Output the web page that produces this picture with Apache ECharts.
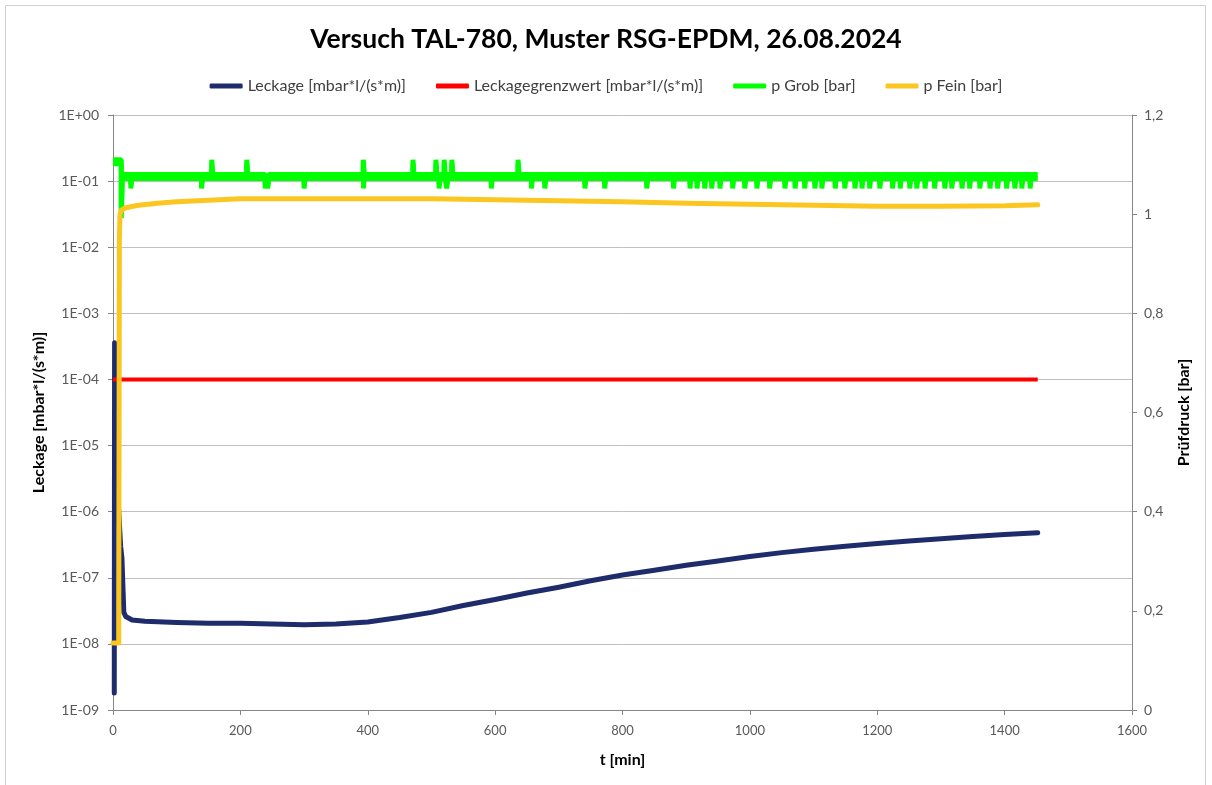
<!DOCTYPE html>
<html>
<head>
<meta charset="utf-8">
<title>Versuch TAL-780</title>
<script src="https://cdn.jsdelivr.net/npm/echarts@6/dist/echarts.min.js"></script>
<style>
  html, body { margin: 0; padding: 0; background: #fff; }
  #chart { width: 1212px; height: 785px; }
</style>
</head>
<body>
<div id="chart"></div>
<script>
// Leckage [mbar*l/(s*m)]  (log-Achse links)
var leckT = [2, 2.5, 4, 8, 12, 14, 17, 20, 30, 50, 100, 150, 200, 250, 300, 350, 400, 450, 500, 550,
             600, 650, 700, 750, 800, 850, 900, 950, 1000, 1050, 1100, 1150, 1200, 1250, 1300, 1350, 1400, 1452];
var leckV = [1.8e-9, 3.6e-4, 1.7e-5, 1.5e-6, 3e-7, 2e-7, 3e-8, 2.6e-8, 2.3e-8, 2.2e-8, 2.1e-8, 2.05e-8, 2.05e-8, 2.0e-8, 1.95e-8, 2.0e-8, 2.15e-8, 2.5e-8, 3.0e-8, 3.8e-8,
             4.7e-8, 5.9e-8, 7.2e-8, 9.0e-8, 1.1e-7, 1.3e-7, 1.55e-7, 1.8e-7, 2.1e-7, 2.4e-7, 2.7e-7, 3.0e-7, 3.3e-7, 3.6e-7, 3.9e-7, 4.2e-7, 4.5e-7, 4.8e-7];

// Leckagegrenzwert
var grenzT = [0, 1452];
var grenzV = [1e-4, 1e-4];

// p Fein [bar]
var feinT = [0, 9, 10, 11, 13, 20, 40, 70, 100, 150, 200, 300, 400, 500, 600, 700, 800, 900, 1000, 1100, 1200, 1300, 1400, 1452];
var feinV = [0.135, 0.135, 0.95, 1.0, 1.008, 1.013, 1.018, 1.022, 1.025, 1.028, 1.031, 1.031, 1.031, 1.031, 1.029, 1.027, 1.025, 1.022, 1.020, 1.018, 1.016, 1.016, 1.017, 1.019];

var grobBase = 1.08;
var grobStartT = [0, 13, 13, 14.5];
var grobStartV = [1.11, 1.11, 1.0, 1.0];
var grobSpikeT = [155, 210, 393, 471, 507, 520, 532, 636];
var grobDipT = [28, 139, 239, 243, 300, 393, 512, 524, 594, 657, 678, 741, 772, 838, 880,
                906, 917, 929, 940, 953, 973, 992, 1011, 1031, 1055, 1071, 1086, 1102, 1113, 1134,
                1149, 1165, 1176, 1188, 1204, 1224, 1236, 1251, 1262, 1275, 1290, 1306, 1317, 1333,
                1345, 1361, 1377, 1389, 1403, 1416, 1427, 1440];
var grobSpikeV = 1.11;
var grobDipV = 1.06;
var grobEndT = 1452;

var xTicks = [0, 1600, 200];
var yRight = [0, 1.2, 0.2];

function pairs(t, v) {
    var out = [];
    for (var i = 0; i < t.length; i++) out.push([t[i], v[i]]);
    return out;
}

function grobData() {
    var ev = [];
    grobSpikeT.forEach(function (t) { ev.push([t, grobSpikeV]); });
    grobDipT.forEach(function (t) { ev.push([t, grobDipV]); });
    ev.sort(function (a, b) { return a[0] - b[0]; });
    var d = pairs(grobStartT, grobStartV);
    d.push([grobStartT[grobStartT.length - 1], grobBase]);
    ev.forEach(function (e) {
        d.push([e[0], grobBase], [e[0], e[1]], [e[0] + 1.5, e[1]], [e[0] + 1.5, grobBase]);
    });
    d.push([grobEndT, grobBase]);
    return d;
}

function fmtExp(v) {
    var e = Math.round(Math.log(v) / Math.LN10);
    var a = Math.abs(e);
    return '1E' + (e < 0 ? '-' : '+') + (a < 10 ? '0' : '') + a;
}

var labelColor = '#595959';
var axisColor = '#868686';
var font = 'Lato';

var chart = echarts.init(document.getElementById('chart'));
var option = {
    animation: false,
    backgroundColor: '#fff',
    title: {
        text: 'Versuch TAL-780, Muster RSG-EPDM, 26.08.2024',
        left: 'center',
        top: 21,
        textStyle: { fontFamily: font, fontSize: 26.5, fontWeight: 'bold', color: '#000' }
    },
    legend: {
        top: 73,
        left: 'center',
        icon: 'roundRect',
        itemWidth: 33,
        itemHeight: 5,
        itemGap: 30,
        textStyle: { fontFamily: font, fontSize: 16, color: '#404040' },
        data: ['Leckage [mbar*l/(s*m)]', 'Leckagegrenzwert [mbar*l/(s*m)]', 'p Grob [bar]', 'p Fein [bar]']
    },
    graphic: [{
        type: 'rect',
        shape: { x: 5.5, y: 5.5, width: 1200, height: 800 },
        style: { fill: null, stroke: '#d0d0d0', lineWidth: 1 },
        silent: true
    }],
    grid: { left: 113, right: 80, top: 115, bottom: 75, containLabel: false },
    xAxis: {
        type: 'value',
        min: xTicks[0], max: xTicks[1], interval: xTicks[2],
        name: 't [min]',
        nameLocation: 'middle',
        nameGap: 42,
        nameTextStyle: { fontFamily: font, fontSize: 16, fontWeight: 'bold', color: '#000' },
        axisLine: { show: true, onZero: false, lineStyle: { color: axisColor } },
        axisTick: { show: true, length: 5, lineStyle: { color: axisColor } },
        axisLabel: { fontFamily: font, fontSize: 13, color: labelColor, margin: 14,
                     formatter: function (v) { return String(v); } },
        splitLine: { show: false }
    },
    yAxis: [{
        type: 'log',
        logBase: 10,
        min: 1e-9, max: 1,
        name: 'Leckage [mbar*l/(s*m)]',
        nameLocation: 'middle',
        nameRotate: 90,
        nameGap: 66,
        nameTextStyle: { fontFamily: font, fontSize: 16, fontWeight: 'bold', color: '#000' },
        axisLine: { show: true, lineStyle: { color: axisColor } },
        axisTick: { show: true, length: 5, lineStyle: { color: axisColor } },
        minorTick: { show: false },
        axisLabel: { fontFamily: font, fontSize: 14, color: labelColor, margin: 14, formatter: fmtExp },
        splitLine: { show: true, lineStyle: { color: '#bfbfbf', width: 1 } }
    }, {
        type: 'value',
        position: 'right',
        min: yRight[0], max: yRight[1], interval: yRight[2],
        name: 'Prüfdruck [bar]',
        nameLocation: 'middle',
        nameRotate: 90,
        nameGap: 44,
        nameTextStyle: { fontFamily: font, fontSize: 16, fontWeight: 'bold', color: '#000' },
        axisLine: { show: true, lineStyle: { color: axisColor } },
        axisTick: { show: true, length: 5, lineStyle: { color: axisColor } },
        axisLabel: {
            fontFamily: font, fontSize: 14, color: labelColor, margin: 12,
            formatter: function (v) { return String(+v.toFixed(1)).replace('.', ','); }
        },
        splitLine: { show: false }
    }],
    series: [{
        name: 'Leckage [mbar*l/(s*m)]',
        type: 'line',
        yAxisIndex: 0,
        symbol: 'none',
        data: pairs(leckT, leckV),
        itemStyle: { color: '#1f2c6c' },
        lineStyle: { color: '#1f2c6c', width: 5, cap: 'round', join: 'round' }
    }, {
        name: 'Leckagegrenzwert [mbar*l/(s*m)]',
        type: 'line',
        yAxisIndex: 0,
        symbol: 'none',
        data: pairs(grenzT, grenzV),
        itemStyle: { color: '#ff0000' },
        lineStyle: { color: '#ff0000', width: 4 }
    }, {
        name: 'p Grob [bar]',
        type: 'line',
        yAxisIndex: 1,
        symbol: 'none',
        data: grobData(),
        itemStyle: { color: '#00ff00' },
        lineStyle: { color: '#00ff00', width: 5, shadowColor: '#00ff00', shadowBlur: 0, shadowOffsetY: 4 }
    }, {
        name: 'p Fein [bar]',
        type: 'line',
        yAxisIndex: 1,
        symbol: 'none',
        data: pairs(feinT, feinV),
        itemStyle: { color: '#fcc620' },
        lineStyle: { color: '#fcc620', width: 5, cap: 'round', join: 'round' }
    }]
};
chart.setOption(option);
window.addEventListener('resize', chart.resize);
</script>
</body>
</html>
